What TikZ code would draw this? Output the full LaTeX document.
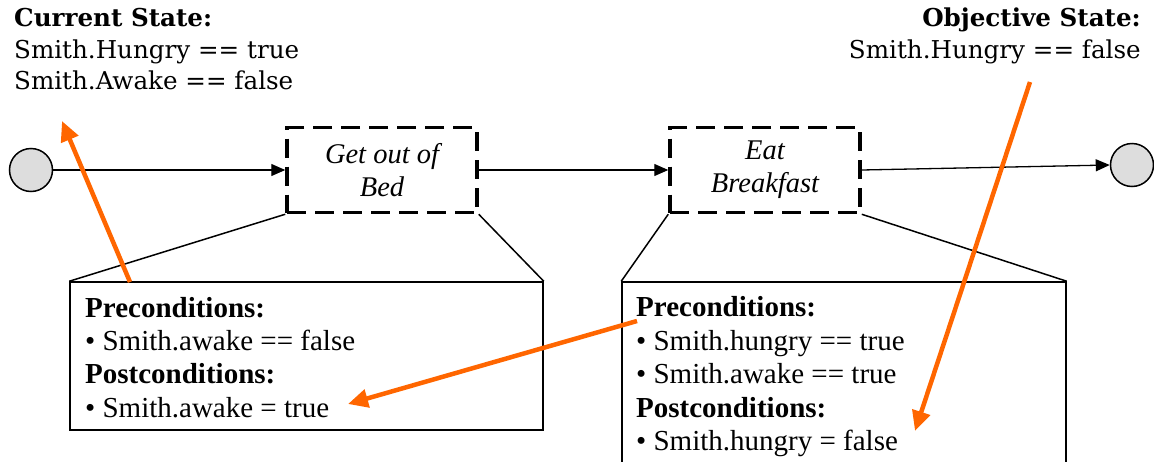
\documentclass[tikz,border=0pt]{standalone}
\usepackage{fontspec}
\setmainfont{Liberation Serif}
\newfontfamily\bookfont{DejaVu Serif}
\usetikzlibrary{arrows.meta}
\definecolor{orng}{HTML}{FF6600}
\definecolor{circgray}{HTML}{DDDDDD}
\begin{document}
\begin{tikzpicture}[x=1pt,y=-1pt,
 statetext/.style={font=\bookfont\fontsize{24.6}{29}\selectfont, inner sep=0pt},
 act/.style={draw, line width=3.5pt, dash pattern=on 19pt off 9pt, minimum width=190pt, minimum height=85pt, font=\itshape\fontsize{28.5}{33}\selectfont, align=center, inner sep=0pt},
 endpt/.style={circle, draw, fill=circgray, line width=1.5pt, minimum size=43pt, inner sep=0pt},
 flow/.style={line width=1.3pt, -{Triangle[length=14pt,width=12pt]}},
 detail/.style={draw, line width=1.5pt, inner sep=0pt},
 dtext/.style={font=\fontsize{29}{33}\selectfont, inner sep=0pt, anchor=base west},
 hl/.style={draw=orng, line width=4.5pt, -{Triangle[length=20pt,width=18pt]}}
]
\useasboundingbox (0,0) rectangle (1154,461);
\clip (0,0) rectangle (1154,461);

% state texts
\node[statetext, anchor=base west] (cs) at (14,26) {\bfseries Current State:};
\node[statetext, anchor=base west] (cs1) at (14,58) {Smith.Hungry == true};
\node[statetext, anchor=base west] (cs2) at (14,89) {Smith.Awake == false};
\node[statetext, anchor=base east] (os) at (1141,26) {\bfseries Objective State:};
\node[statetext, anchor=base east] (os1) at (1141,58) {Smith.Hungry == false};

% flow
\node[endpt] (start) at (31,170) {};
\node[act] (a1) at (382,170) {Get out of\\Bed};
\node[act] (a2) at (765,170) {Eat\\Breakfast};
\node[endpt] (end) at (1132,165) {};
\draw[flow] (start) -- (a1.west);
\draw[flow] (a1.east) -- (a2.west);
\draw[flow] (a2.east) -- (end.west);

% detail boxes
\node[detail, minimum width=473pt, minimum height=148pt] (d1) at (306.5,356) {};
\node[detail, minimum width=444pt, minimum height=198pt] (d2) at (844,381) {};
\draw[line width=1.5pt] (a1.south west) -- (d1.north west);
\draw[line width=1.5pt] (a1.south east) -- (d1.north east);
\draw[line width=1.5pt] (a2.south west) -- (d2.north west);
\draw[line width=1.5pt] (a2.south east) -- (d2.north east);

\node[dtext] (p1) at (85,317) {\bfseries Preconditions:};
\node[dtext] (p1a) at (85,350) {• Smith.awake == false};
\node[dtext] (q1) at (85,383) {\bfseries Postconditions:};
\node[dtext] (q1a) at (85,417) {• Smith.awake = true};

\node[dtext] (p2) at (636,316) {\bfseries Preconditions:};
\node[dtext] (p2a) at (636,350) {• Smith.hungry == true};
\node[dtext] (p2b) at (636,383) {• Smith.awake == true};
\node[dtext] (q2) at (636,417) {\bfseries Postconditions:};
\node[dtext] (q2a) at (636,450) {• Smith.hungry = false};

% highlight arrows
\coordinate (h1s) at (130,282);
\coordinate (h1e) at (62,121);
\coordinate (h2s) at (637,321);
\coordinate (h2e) at (348,404);
\coordinate (h3s) at (1030,82);
\coordinate (h3e) at (915,431);
\draw[hl] (h1s) -- (h1e);
\draw[hl] (h2s) -- (h2e);
\draw[hl] (h3s) -- (h3e);
\end{tikzpicture}
\end{document}
